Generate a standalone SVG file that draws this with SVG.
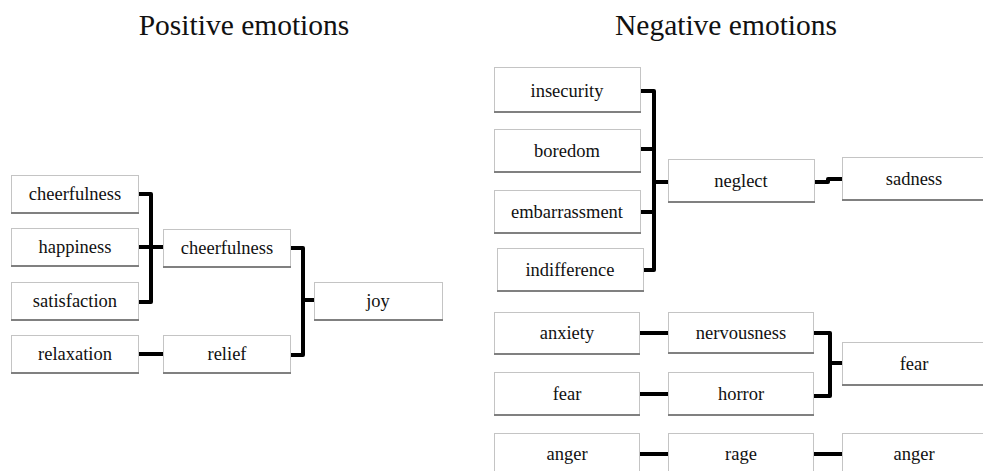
<svg xmlns="http://www.w3.org/2000/svg" width="983" height="471" viewBox="0 0 983 471">
<style>
.box{fill:#fff;stroke:#c4c4c4;stroke-width:1}
.sh{stroke:#808080;stroke-width:2;fill:none}
text{font-family:'Liberation Serif','Times New Roman',Times,serif;fill:#111;text-anchor:middle}
.lbl{font-size:18.5px}
.title{font-size:29.5px}
.con{fill:none;stroke:#000;stroke-width:4;stroke-linejoin:round}
</style>
<rect width="983" height="471" fill="#fff"/>
<text class="title" x="244" y="35" font-family="Liberation Serif, serif">Positive emotions</text>
<text class="title" x="726" y="35" font-family="Liberation Serif, serif">Negative emotions</text>

<g id="connectors">
<path class="con" d="M138,194 H151 V302 H138 M138,247 H163"/>
<path class="con" d="M290,248 H303 V355 H290 M303,300 H314"/>
<path class="con" d="M138,354 H163"/>
<path class="con" d="M640,91 H654 V270 H643 M640,149 H654 M640,212 H654 M654,182 H668"/>
<path class="con" d="M814,182 H828 V179 H842"/>
<path class="con" d="M639,333 H668 M639,394 H668 M639,454 H668"/>
<path class="con" d="M813,333 H830 V396 H813 M830,363 H842"/>
<path class="con" d="M813,454 H842"/>
</g>

<g font-family="Liberation Serif, serif" font-size="18.5">
<g id="n-cheerfulness1"><rect class="box" x="11.5" y="175.5" width="127" height="38"/><path class="sh" d="M11,213 H139"/><text class="lbl" x="75" y="200" font-family="Liberation Serif, serif">cheerfulness</text></g>
<g id="n-happiness"><rect class="box" x="11.5" y="228.5" width="127" height="38"/><path class="sh" d="M11,266 H139"/><text class="lbl" x="75" y="253" font-family="Liberation Serif, serif">happiness</text></g>
<g id="n-satisfaction"><rect class="box" x="11.5" y="282.5" width="127" height="38"/><path class="sh" d="M11,320 H139"/><text class="lbl" x="75" y="307" font-family="Liberation Serif, serif">satisfaction</text></g>
<g id="n-relaxation"><rect class="box" x="11.5" y="335.5" width="127" height="38"/><path class="sh" d="M11,373 H139"/><text class="lbl" x="75" y="360" font-family="Liberation Serif, serif">relaxation</text></g>
<g id="n-cheerfulness2"><rect class="box" x="163.5" y="229.5" width="127" height="38"/><path class="sh" d="M163,267 H291"/><text class="lbl" x="227" y="254" font-family="Liberation Serif, serif">cheerfulness</text></g>
<g id="n-relief"><rect class="box" x="163.5" y="335.5" width="127" height="38"/><path class="sh" d="M163,373 H291"/><text class="lbl" x="227" y="360" font-family="Liberation Serif, serif">relief</text></g>
<g id="n-joy"><rect class="box" x="314.5" y="282.5" width="128" height="38"/><path class="sh" d="M314,320 H443"/><text class="lbl" x="378" y="307" font-family="Liberation Serif, serif">joy</text></g>

<g id="n-insecurity"><rect class="box" x="494.5" y="67.5" width="146" height="45"/><path class="sh" d="M494,112 H641"/><text class="lbl" x="567" y="97" font-family="Liberation Serif, serif">insecurity</text></g>
<g id="n-boredom"><rect class="box" x="494.5" y="129.5" width="146" height="43"/><path class="sh" d="M494,172 H641"/><text class="lbl" x="567" y="157" font-family="Liberation Serif, serif">boredom</text></g>
<g id="n-embarrassment"><rect class="box" x="494.5" y="190.5" width="146" height="43"/><path class="sh" d="M494,233 H641"/><text class="lbl" x="567" y="218" font-family="Liberation Serif, serif">embarrassment</text></g>
<g id="n-indifference"><rect class="box" x="497.5" y="248.5" width="146" height="43"/><path class="sh" d="M497,291 H644"/><text class="lbl" x="570" y="276" font-family="Liberation Serif, serif">indifference</text></g>
<g id="n-neglect"><rect class="box" x="668.5" y="159.5" width="146" height="43"/><path class="sh" d="M668,202 H815"/><text class="lbl" x="741" y="187" font-family="Liberation Serif, serif">neglect</text></g>
<g id="n-sadness"><rect class="box" x="842.5" y="157.5" width="146" height="43"/><path class="sh" d="M842,200 H989"/><text class="lbl" x="914" y="185" font-family="Liberation Serif, serif">sadness</text></g>

<g id="n-anxiety"><rect class="box" x="494.5" y="312.5" width="145" height="42"/><path class="sh" d="M494,354 H640"/><text class="lbl" x="567" y="339" font-family="Liberation Serif, serif">anxiety</text></g>
<g id="n-fear1"><rect class="box" x="494.5" y="372.5" width="145" height="43"/><path class="sh" d="M494,415 H640"/><text class="lbl" x="567" y="400" font-family="Liberation Serif, serif">fear</text></g>
<g id="n-anger1"><rect class="box" x="494.5" y="433.5" width="145" height="43"/><text class="lbl" x="567" y="460" font-family="Liberation Serif, serif">anger</text></g>
<g id="n-nervousness"><rect class="box" x="668.5" y="312.5" width="145" height="41"/><path class="sh" d="M668,353 H814"/><text class="lbl" x="741" y="339" font-family="Liberation Serif, serif">nervousness</text></g>
<g id="n-horror"><rect class="box" x="668.5" y="372.5" width="145" height="43"/><path class="sh" d="M668,415 H814"/><text class="lbl" x="741" y="400" font-family="Liberation Serif, serif">horror</text></g>
<g id="n-rage"><rect class="box" x="668.5" y="433.5" width="145" height="43"/><text class="lbl" x="741" y="460" font-family="Liberation Serif, serif">rage</text></g>
<g id="n-fear2"><rect class="box" x="842.5" y="342.5" width="146" height="43"/><path class="sh" d="M842,385 H989"/><text class="lbl" x="914" y="370" font-family="Liberation Serif, serif">fear</text></g>
<g id="n-anger2"><rect class="box" x="842.5" y="433.5" width="146" height="43"/><text class="lbl" x="914" y="460" font-family="Liberation Serif, serif">anger</text></g>
</g>
</svg>
